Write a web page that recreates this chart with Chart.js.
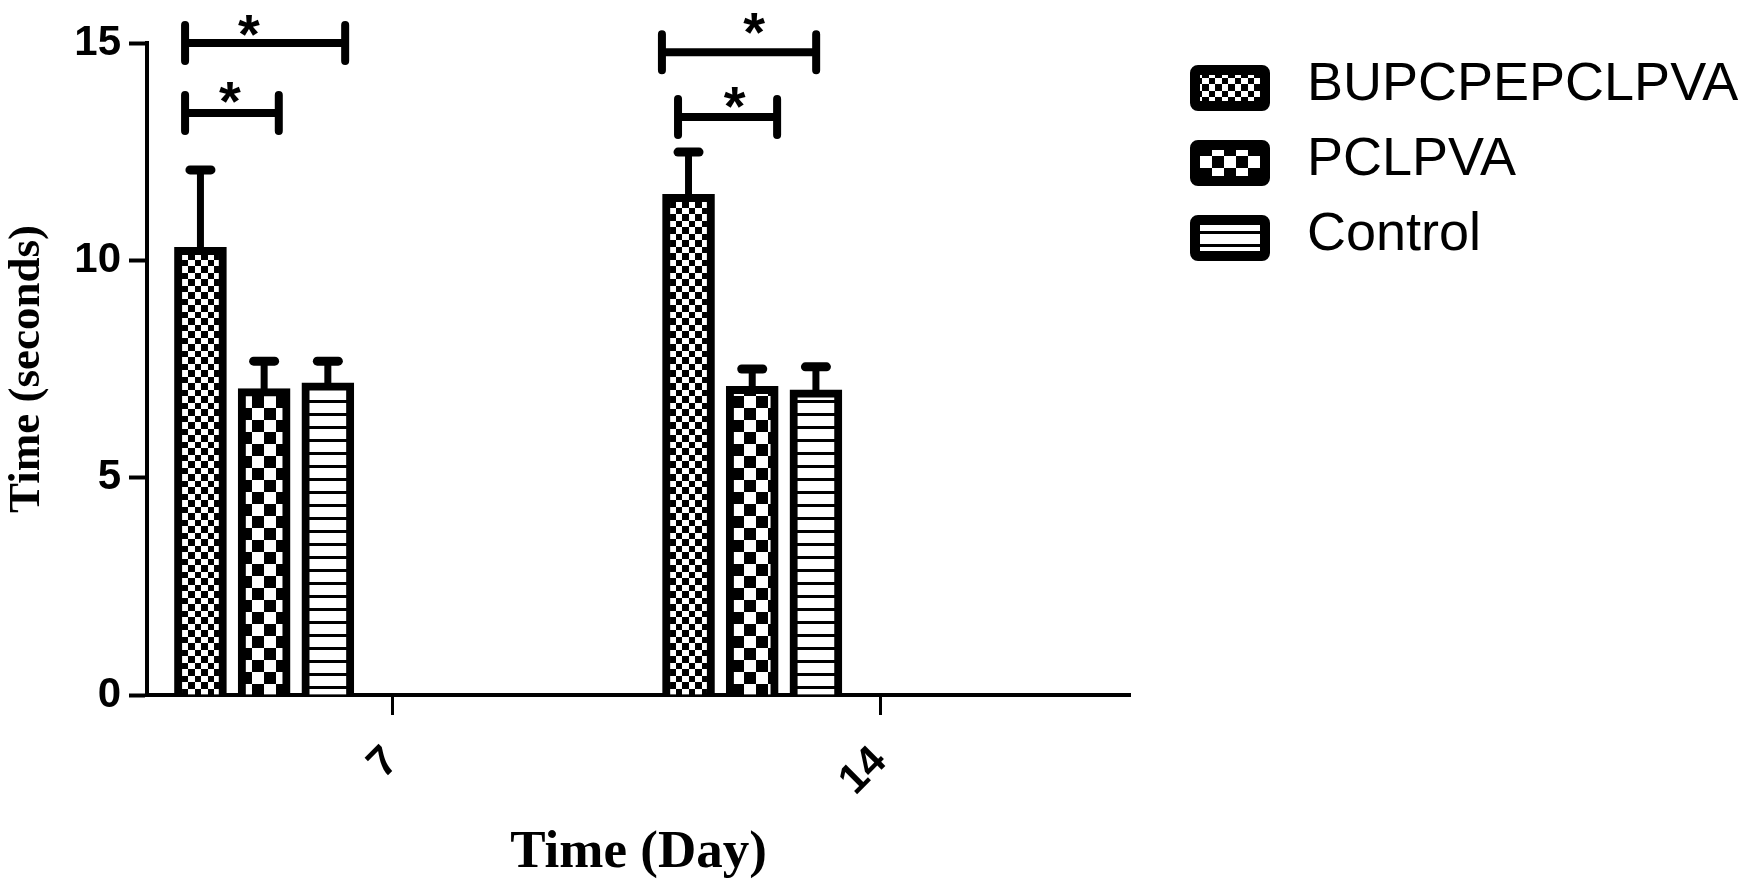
<!DOCTYPE html>
<html>
<head>
<meta charset="utf-8">
<title>Time (seconds) by day</title>
<script src="https://cdn.jsdelivr.net/npm/chart.js@4.4.1/dist/chart.umd.min.js"></script>
<style>
  html, body { margin: 0; padding: 0; background: #fff; }
  #wrap { width: 1748px; height: 880px; position: relative; }
</style>
</head>
<body>
<div id="wrap"><canvas id="timeChart"></canvas></div>
<script>
// values (bar = mean, error bar = upper SEM)
const days = ["7", "14"];
const seriesNames = ["BUPCPEPCLPVA", "PCLPVA", "Control"];

const bupValues = [10.3, 11.52];
const bupErrors = [1.78, 0.97];

const pclValues = [7.05, 7.1];
const pclErrors = [0.63, 0.4];

const controlValues = [7.18, 7.02];
const controlErrors = [0.5, 0.53];

const yTicks = [0, 5, 10, 15];

// significance brackets: x relative to the day tick (day-index units), y in seconds
const brackets = [
    { group: 0, x1: -0.424, x2: -0.096, y: 15.0, starX: -0.293, starY: 15.41 },
    { group: 0, x1: -0.424, x2: -0.232, y: 13.39, starX: -0.332, starY: 13.85 },
    { group: 1, x1: -0.447, x2: -0.131, y: 14.79, starX: -0.258, starY: 15.45 },
    { group: 1, x1: -0.414, x2: -0.211, y: 13.3, starX: -0.298, starY: 13.74 }
];

// bars sit left of the day tick, like the Prism layout
const GROUP_SHIFT = -0.262;
const BAR_STEP = 0.1305;

function barPoints(values, s) {
    return values.map((v, i) => ({ x: i + GROUP_SHIFT + (s - 1) * BAR_STEP, y: v }));
}

function makePattern(kind) {
    const c = document.createElement("canvas");
    const g = c.getContext("2d");

    if (kind === "fine") {
        c.width = 13; c.height = 13;
        g.fillStyle = "#fff"; g.fillRect(0, 0, 13, 13);
        g.fillStyle = "#000";
        g.fillRect(0, 0, 6, 6);
        g.fillRect(6, 6, 7, 7);
    } else if (kind === "coarse") {
        c.width = 24; c.height = 24;
        g.fillStyle = "#fff"; g.fillRect(0, 0, 24, 24);
        g.fillStyle = "#000";
        g.fillRect(0, 0, 12, 12);
        g.fillRect(12, 12, 12, 12);
    } else {
        c.width = 8; c.height = 13;
        g.fillStyle = "#fff"; g.fillRect(0, 0, 8, 13);
        g.fillStyle = "#000";
        g.fillRect(0, 10, 8, 3);
    }
    return g.createPattern(c, "repeat");
}

const patterns = [makePattern("fine"), makePattern("coarse"), makePattern("stripes")];

function barDataset(idx, values, errors) {
    return {
        label: seriesNames[idx],
        data: barPoints(values, idx),
        errors: errors,
        backgroundColor: patterns[idx],
        borderColor: "#000",
        borderWidth: 8,
        borderSkipped: "start",
        barThickness: 52,
        grouped: false
    };
}

const errorBarPlugin = {
    id: "errorBars",
    afterDatasetsDraw(chart) {
        const ctx = chart.ctx;
        const yScale = chart.scales.y;

        chart.data.datasets.forEach((ds, di) => {
            const meta = chart.getDatasetMeta(di);
            meta.data.forEach((bar, i) => {
                const top = yScale.getPixelForValue(ds.data[i].y + ds.errors[i]);
                ctx.save();
                ctx.strokeStyle = "#000";
                ctx.lineWidth = 7;
                ctx.beginPath();
                ctx.moveTo(bar.x, bar.y + 2);
                ctx.lineTo(bar.x, top);
                ctx.stroke();
                ctx.lineWidth = 9;
                ctx.lineCap = "round";
                ctx.beginPath();
                ctx.moveTo(bar.x - 10.5, top);
                ctx.lineTo(bar.x + 10.5, top);
                ctx.stroke();
                ctx.restore();
            });
        });
    }
};

const bracketPlugin = {
    id: "sigBrackets",
    afterDraw(chart) {
        const ctx = chart.ctx;
        const xs = chart.scales.x;
        const ys = chart.scales.y;

        ctx.save();
        ctx.strokeStyle = "#000";
        ctx.fillStyle = "#000";
        ctx.lineWidth = 8;

        brackets.forEach(b => {
            const x1 = xs.getPixelForValue(b.group + b.x1);
            const x2 = xs.getPixelForValue(b.group + b.x2);
            const y = ys.getPixelForValue(b.y);

            ctx.lineCap = "butt";
            ctx.beginPath();
            ctx.moveTo(x1, y);
            ctx.lineTo(x2, y);
            ctx.stroke();

            ctx.lineCap = "round";
            ctx.beginPath();
            ctx.moveTo(x1, y - 18); ctx.lineTo(x1, y + 18);
            ctx.moveTo(x2, y - 18); ctx.lineTo(x2, y + 18);
            ctx.stroke();

            // asterisk centred on its point
            ctx.font = "bold 56px 'Liberation Sans', Arial, sans-serif";
            ctx.textAlign = "center";
            ctx.textBaseline = "alphabetic";
            const m = ctx.measureText("*");
            const cy = ys.getPixelForValue(b.starY);
            const base = cy + (m.actualBoundingBoxAscent - m.actualBoundingBoxDescent) / 2;
            ctx.fillText("*", xs.getPixelForValue(b.group + b.starX), base);
        });
        ctx.restore();
    }
};

const legendPlugin = {
    id: "patternLegend",
    afterDraw(chart) {
        const ctx = chart.ctx;
        const left = 1190, top = 65, boxW = 80, boxH = 46, step = 75, textX = 1307;

        ctx.save();
        chart.data.datasets.forEach((ds, i) => {
            const y = top + i * step;
            ctx.fillStyle = ds.backgroundColor;
            ctx.fillRect(left + 5, y + 5, boxW - 10, boxH - 10);
            ctx.strokeStyle = "#000";
            ctx.lineWidth = 10;
            ctx.beginPath();
            ctx.roundRect(left + 5, y + 5, boxW - 10, boxH - 10, 3);
            ctx.stroke();

            ctx.fillStyle = "#000";
            ctx.font = "54px 'Liberation Sans', Arial, sans-serif";
            ctx.textAlign = "left";
            ctx.textBaseline = "middle";
            ctx.fillText(ds.label, textX, y + 20);
        });
        ctx.restore();
    }
};

Chart.defaults.font.family = "'Liberation Sans', Arial, sans-serif";
Chart.defaults.color = "#000";

new Chart(
    document.getElementById("timeChart"),
    {
        type: "bar",

        data: {
            datasets: [
                barDataset(0, bupValues, bupErrors),
                barDataset(1, pclValues, pclErrors),
                barDataset(2, controlValues, controlErrors)
            ]
        },

        options: {
            responsive: true,
            maintainAspectRatio: false,
            animation: false,

            layout: {
                padding: { top: 43, right: 618, bottom: 0, left: 0 }
            },

            plugins: {
                legend: { display: false },
                tooltip: { enabled: false }
            },

            scales: {
                x: {
                    type: "linear",
                    offset: false,
                    min: -0.502,
                    max: 1.512,
                    afterBuildTicks: s => { s.ticks = days.map((d, i) => ({ value: i })); },
                    afterFit: s => { s.height = 185; },
                    ticks: {
                        callback: (v, i) => days[i],
                        font: { size: 42, weight: "bold" },
                        color: "#000",
                        minRotation: 45,
                        maxRotation: 45,
                        autoSkip: false,
                        padding: 22
                    },
                    grid: {
                        offset: false,
                        drawOnChartArea: false,
                        tickLength: 20,
                        tickWidth: 3,
                        tickColor: "#000"
                    },
                    border: { display: true, color: "#000", width: 4 },
                    title: {
                        display: true,
                        text: "Time (Day)",
                        font: { family: "'Liberation Serif', 'Times New Roman', serif", size: 53, weight: "bold", lineHeight: 1 },
                        color: "#000",
                        padding: 0
                    }
                },

                y: {
                    min: 0,
                    max: 15,
                    afterBuildTicks: s => { s.ticks = yTicks.map(v => ({ value: v })); },
                    afterFit: s => { s.width = 147; },
                    ticks: {
                        font: { size: 42, weight: "bold" },
                        color: "#000",
                        padding: 8
                    },
                    grid: {
                        drawOnChartArea: false,
                        tickLength: 18,
                        tickWidth: 4,
                        tickColor: "#000"
                    },
                    border: { display: true, color: "#000", width: 4 },
                    title: {
                        display: true,
                        text: "Time (seconds)",
                        font: { family: "'Liberation Serif', 'Times New Roman', serif", size: 45, weight: "bold" },
                        color: "#000",
                        padding: 0
                    }
                }
            }
        },

        plugins: [errorBarPlugin, bracketPlugin, legendPlugin]
    }
);
</script>
</body>
</html>
